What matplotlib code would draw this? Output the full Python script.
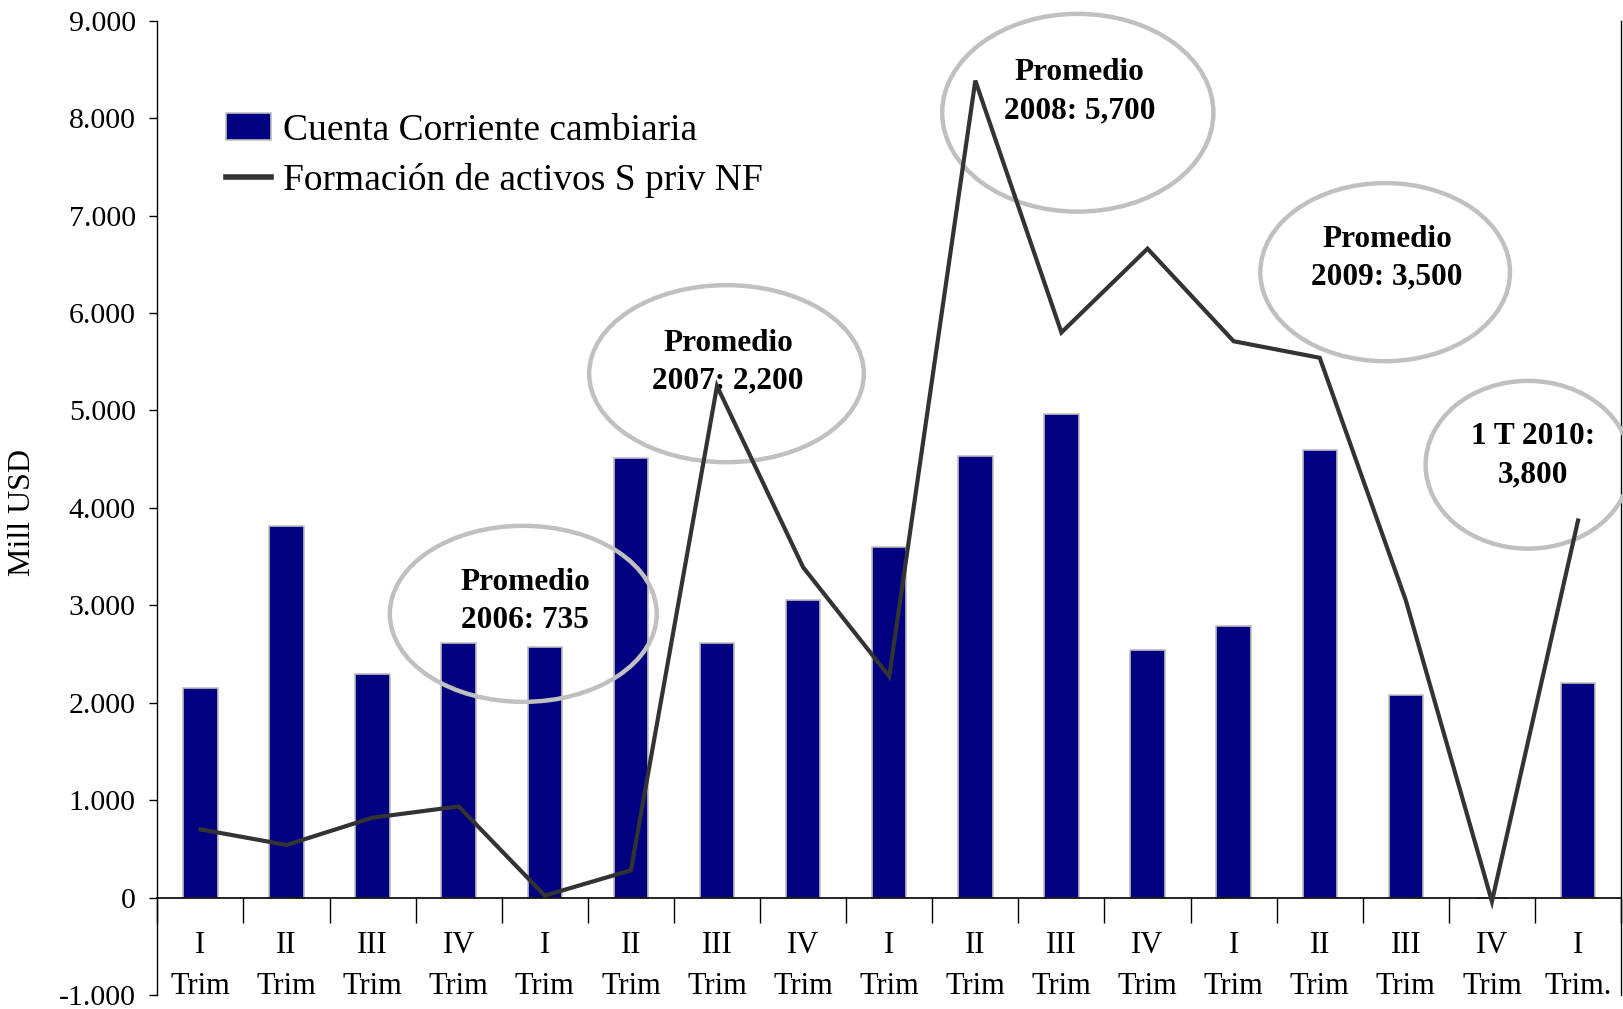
import numpy as np
import matplotlib
matplotlib.use("Agg")
import matplotlib.pyplot as plt
from matplotlib.patches import Ellipse
from matplotlib.ticker import FuncFormatter, FixedLocator

plt.rcParams['font.family'] = ['Liberation Serif', 'DejaVu Serif']

# ---- data ----
quarters = ["I", "II", "III", "IV", "I", "II", "III", "IV", "I", "II", "III", "IV",
            "I", "II", "III", "IV", "I"]
trim_words = ["Trim"] * 16 + ["Trim."]
cuenta_corriente = [2150, 3810, 2290, 2610, 2570, 4510, 2610, 3050, 3600, 4530,
                    4960, 2540, 2790, 4590, 2080, 0, 2200]
formacion_activos = [700, 540, 820, 935, 20, 280, 5250, 3390, 2270, 8385,
                     5800, 6660, 5710, 5540, 3050, -40, 3870]
annot_texts = ["Promedio\n2006: 735", "Promedio\n2007: 2,200", "Promedio\n2008: 5,700",
               "Promedio\n2009: 3,500", "1 T 2010:\n3,800"]
legend_labels = ["Cuenta Corriente cambiaria", "Formación de activos S priv NF"]
y_label = "Mill USD"

# annotation geometry (data coords)
ell_x = [3.75, 6.11, 10.19, 13.76, 15.42]
ell_y = [2912, 5377, 8055, 6419, 4442]
ell_w = [3.10, 3.19, 3.15, 2.90, 2.38]
ell_h = [1807, 1817, 2030, 1828, 1722]
txt_x = [3.77, 6.13, 10.21, 13.78, 15.48]
txt_y = [3039, 5494, 8268, 6562, 4538]

fig = plt.figure(figsize=(16.24, 10.09), dpi=100)
ax = fig.add_axes([0.0969, 0.0139, 0.9013, 0.9656])

x = np.arange(len(quarters))
bars = ax.bar(x, cuenta_corriente, width=0.40, color="#000080", edgecolor="#c0c0c0",
              linewidth=1.2, zorder=2, label=legend_labels[0])
line, = ax.plot(x, formacion_activos, color="#333333", linewidth=3.0, zorder=5,
                label=legend_labels[1], solid_joinstyle="miter")

for ex, ey, ew, eh in zip(ell_x, ell_y, ell_w, ell_h):
    e = Ellipse((ex, ey), ew, eh, fill=False, edgecolor="#c0c0c0", linewidth=3.2,
                zorder=3, clip_on=False)
    ax.add_patch(e)
for tx, ty, t in zip(txt_x, txt_y, annot_texts):
    ax.text(tx, ty, t, ha="center", va="center", fontsize=22.5, fontweight="bold",
            linespacing=1.42, zorder=4)

ax.set_xlim(-0.5, len(quarters) - 0.5)
ax.set_ylim(-1000, 9000)

# spines
ax.spines['top'].set_visible(False)
ax.spines['bottom'].set_position(('data', 0))
ax.spines['left'].set_linewidth(1.0)
ax.spines['right'].set_linewidth(1.0)
ax.spines['bottom'].set_linewidth(1.2)

# y ticks
ax.set_yticks(np.arange(-1000, 9001, 1000))
ax.yaxis.set_major_formatter(FuncFormatter(lambda v, p: f"{int(v):,}".replace(",", ".")))
ax.tick_params(axis='y', direction='out', length=5.5, width=1.0, labelsize=21.5, pad=10,
               right=False)

# x ticks: boundaries as major ticks (no labels), centers as minor with labels
ax.xaxis.set_major_locator(FixedLocator(np.arange(-0.5, len(quarters), 1.0)))
ax.xaxis.set_major_formatter(FuncFormatter(lambda v, p: ""))
ax.xaxis.set_minor_locator(FixedLocator(x))
ax.set_xticks(x, [f"{q}\n{w}" for q, w in zip(quarters, trim_words)], minor=True)
ax.tick_params(axis='x', which='major', direction='out', length=18, width=1.0)
ax.tick_params(axis='x', which='minor', length=0, labelsize=22, pad=24)
for lab in ax.get_xticklabels(minor=True):
    lab.set_linespacing(1.55)

ax.set_ylabel(y_label, fontsize=23)
ax.yaxis.set_label_coords(-0.082, 0.495)

leg = ax.legend(handles=[bars, line], labels=legend_labels, loc="upper left",
                bbox_to_anchor=(0.139, 0.888), bbox_transform=fig.transFigure,
                frameon=False, fontsize=27, handlelength=1.22, handletextpad=0.3,
                labelspacing=0.42, borderpad=0, borderaxespad=0)
for lh in leg.legend_handles:
    if hasattr(lh, "set_linewidth") and lh is not leg.legend_handles[0]:
        lh.set_linewidth(4.0)

fig.savefig("out.png", dpi=100)
